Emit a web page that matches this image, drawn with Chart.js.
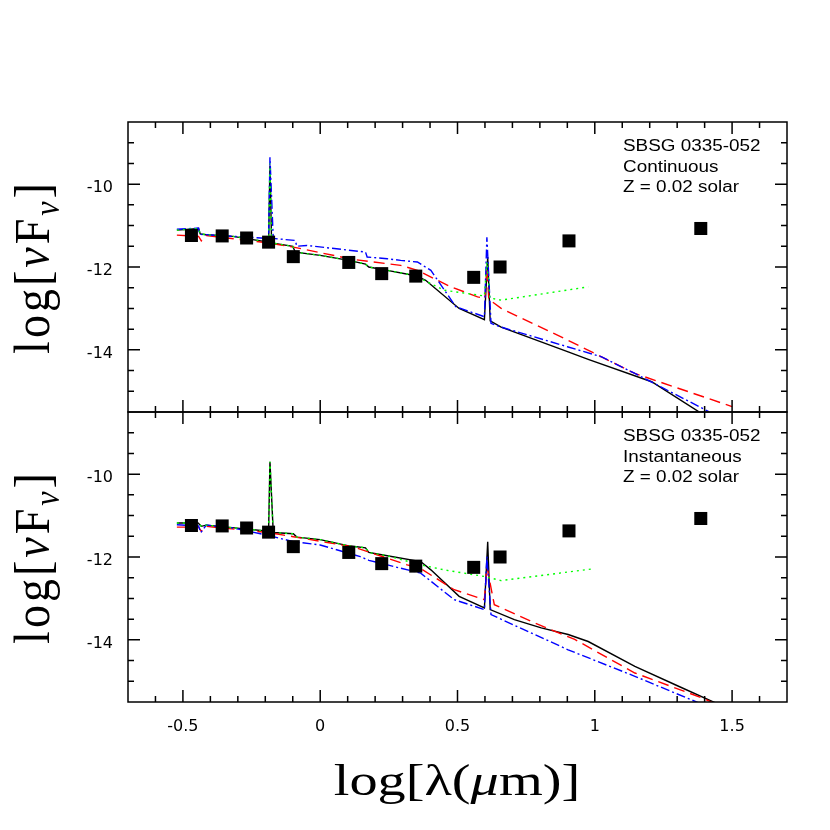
<!DOCTYPE html>
<html>
<head>
<meta charset="utf-8">
<script src="https://cdn.jsdelivr.net/npm/chart.js@4.4.1/dist/chart.umd.min.js"></script>
<style>
  body { margin: 0; background: #fff; }
  #wrap { position: relative; width: 830px; height: 830px; }
  #sed { position: absolute; left: 0; top: 0; }
  .ytitle, .xtitle { position: absolute; font-family: 'Liberation Serif', serif; white-space: nowrap; color: #000; line-height: 1; }
  .ytitle { left: 36px; font-size: 46px; letter-spacing: 3px; transform: translate(-50%, -50%) rotate(-90deg) scaleY(1.1); }
  .xtitle { left: 457px; top: 781px; font-size: 44px; transform: translate(-50%, -50%) scaleX(1.28); }
  .ytitle sub { font-size: 0.7em; vertical-align: -0.3em; }
  .note { position: absolute; left: 623px; font-family: 'Liberation Sans', Arial, sans-serif; font-size: 16px; line-height: 20.5px; color: #000; transform: scaleX(1.18); transform-origin: left top; white-space: nowrap; }
</style>
</head>
<body>
<div id="wrap">
  <canvas id="sed" width="830" height="830"></canvas>
  <div class="ytitle" style="top:267px">log[<i>ν</i>F<sub><i>ν</i></sub>]</div>
  <div class="ytitle" style="top:557px">log[<i>ν</i>F<sub><i>ν</i></sub>]</div>
  <div class="xtitle">log[λ(<i>μ</i>m)]</div>
  <div class="note" style="top:136px">SBSG 0335-052<br>Continuous<br>Z = 0.02 solar</div>
  <div class="note" style="top:426px">SBSG 0335-052<br>Instantaneous<br>Z = 0.02 solar</div>
</div>
<script>
// observed photometry (same in both panels)
var obsX = [-0.469, -0.357, -0.268, -0.188, -0.098, 0.104, 0.224, 0.348, 0.559, 0.655, 0.906, 1.386];
var obsY = [-11.24, -11.25, -11.30, -11.40, -11.75, -11.89, -12.16, -12.22, -12.25, -12.00, -11.37, -11.07];

// top panel: continuous star formation
var contBlackX = [-0.522, -0.443, -0.437, -0.415, -0.318, -0.188, -0.183, -0.177, -0.100, -0.091, 0, 0.104, 0.165, 0.177, 0.244, 0.348, 0.384, 0.506, 0.598, 0.610, 0.619, 0.659, 0.903, 0.976, 1.207, 1.378];
var contBlackY = [-11.11, -11.07, -11.20, -11.22, -11.26, -11.40, -9.55, -11.42, -11.50, -11.64, -11.72, -11.84, -11.93, -12.00, -12.08, -12.21, -12.32, -13.00, -13.27, -11.76, -13.30, -13.45, -14.05, -14.23, -14.77, -15.49];
var contGreenX = [-0.522, -0.443, -0.437, -0.415, -0.318, -0.188, -0.183, -0.177, -0.100, -0.091, 0, 0.104, 0.165, 0.177, 0.244, 0.348, 0.366, 0.451, 0.598, 0.607, 0.618, 0.659, 0.976];
var contGreenY = [-11.11, -11.07, -11.20, -11.22, -11.26, -11.40, -9.50, -11.42, -11.50, -11.64, -11.72, -11.84, -11.93, -12.00, -12.08, -12.21, -12.28, -12.56, -12.70, -11.88, -12.75, -12.80, -12.48];
var contBlueX = [-0.522, -0.443, -0.439, -0.318, -0.188, -0.183, -0.171, -0.091, -0.085, -0.049, 0.165, 0.171, 0.244, 0.293, 0.354, 0.403, 0.494, 0.598, 0.607, 0.622, 0.659, 0.903, 1.025, 1.146, 1.415];
var contBlueY = [-11.09, -11.06, -11.21, -11.26, -11.31, -9.35, -11.31, -11.36, -11.50, -11.48, -11.64, -11.76, -11.80, -11.84, -11.88, -12.08, -12.96, -13.20, -11.28, -13.36, -13.45, -13.93, -14.17, -14.57, -15.49];
var contRedX = [-0.522, -0.443, -0.433, -0.415, -0.188, -0.098, 0.122, 0.293, 0.354, 0.476, 0.573, 0.600, 0.607, 0.614, 0.659, 0.903, 1.146, 1.500];
var contRedY = [-11.23, -11.26, -11.37, -11.24, -11.42, -11.52, -11.82, -11.96, -12.08, -12.48, -12.72, -12.76, -12.00, -12.78, -13.00, -13.77, -14.57, -15.37];

// bottom panel: instantaneous burst
var instBlackX = [-0.522, -0.445, -0.433, -0.415, -0.188, -0.183, -0.171, -0.098, -0.085, 0, 0.104, 0.165, 0.177, 0.244, 0.366, 0.403, 0.506, 0.598, 0.610, 0.619, 0.707, 0.805, 0.903, 0.976, 1.146, 1.305, 1.439];
var instBlackY = [-11.18, -11.18, -11.26, -11.23, -11.38, -9.70, -11.41, -11.44, -11.52, -11.58, -11.73, -11.78, -11.89, -11.97, -12.11, -12.31, -12.95, -13.23, -11.63, -13.27, -13.51, -13.71, -13.87, -14.04, -14.64, -15.12, -15.52];
var instGreenX = [-0.522, -0.445, -0.433, -0.415, -0.188, -0.183, -0.171, -0.098, -0.085, 0, 0.104, 0.165, 0.177, 0.244, 0.366, 0.451, 0.598, 0.659, 0.988];
var instGreenY = [-11.18, -11.18, -11.26, -11.23, -11.38, -9.70, -11.41, -11.44, -11.52, -11.58, -11.73, -11.78, -11.89, -11.97, -12.19, -12.31, -12.47, -12.57, -12.29];
var instBlueX = [-0.522, -0.443, -0.435, -0.415, -0.318, -0.188, -0.098, 0, 0.146, 0.177, 0.366, 0.488, 0.598, 0.607, 0.622, 0.903, 1.146, 1.378];
var instBlueY = [-11.22, -11.25, -11.41, -11.23, -11.30, -11.48, -11.63, -11.71, -11.99, -12.08, -12.39, -13.03, -13.27, -11.99, -13.39, -14.24, -14.88, -15.52];
var instRedX = [-0.522, -0.443, -0.433, -0.415, -0.188, -0.098, 0.122, 0.317, 0.366, 0.488, 0.598, 0.607, 0.634, 0.780, 0.927, 1.146, 1.390, 1.430];
var instRedY = [-11.28, -11.28, -11.38, -11.26, -11.41, -11.51, -11.76, -12.19, -12.28, -12.79, -13.03, -12.23, -13.15, -13.59, -13.99, -14.80, -15.40, -15.52];

// axis ticks
var xMajor = [-0.5, 0, 0.5, 1, 1.5];
var yMajor = [-14, -12, -10];

function pares(xs, ys) {
	return xs.map(function(x, i) { return {x: x, y: ys[i]}; });
}

function curva(xs, ys, cor, traco, eixo) {
	return {
		data: pares(xs, ys),
		yAxisID: eixo,
		showLine: true,
		borderColor: cor,
		borderWidth: 1.4,
		borderDash: traco,
		pointRadius: 0,
		fill: false,
		tension: 0
	};
}

function pontos(eixo) {
	return {
		data: pares(obsX, obsY),
		yAxisID: eixo,
		showLine: false,
		pointStyle: 'rect',
		pointRadius: 9.2,
		backgroundColor: '#000',
		borderColor: '#000',
		borderWidth: 0
	};
}

// frame boxes with inward ticks on all four sides of each panel
var moldura = {
	id: 'moldura',
	afterDatasetsDraw: function(chart) {
		var ctx = chart.ctx, xs = chart.scales.x;
		ctx.save();
		ctx.strokeStyle = '#000';
		ctx.lineWidth = 1.5;
		['yTop', 'yBot'].forEach(function(id) {
			var ys = chart.scales[id];
			ctx.strokeRect(xs.left, ys.top, xs.right - xs.left, ys.bottom - ys.top);
			ctx.beginPath();
			for (var k = -6; k <= 16; k++) {
				var px = xs.getPixelForValue(k / 10);
				var len = (k % 5 === 0) ? 12 : 6;
				ctx.moveTo(px, ys.top); ctx.lineTo(px, ys.top + len);
				ctx.moveTo(px, ys.bottom); ctx.lineTo(px, ys.bottom - len);
			}
			for (var j = -30; j <= -18; j++) {
				var py = ys.getPixelForValue(j / 2);
				var l2 = (j % 4 === 0) ? 12 : 6;
				ctx.moveTo(xs.left, py); ctx.lineTo(xs.left + l2, py);
				ctx.moveTo(xs.right, py); ctx.lineTo(xs.right - l2, py);
			}
			ctx.stroke();
		});
		ctx.restore();
	}
};

function eixoY() {
	return {
		type: 'linear',
		position: 'left',
		stack: 'painel',
		stackWeight: 1,
		min: -15.5,
		max: -8.5,
		grid: { display: false, drawTicks: false },
		border: { display: false },
		afterBuildTicks: function(s) { s.ticks = yMajor.map(function(v) { return {value: v}; }); },
		afterFit: function(s) { s.width = 128; },
		ticks: {
			padding: 15,
			labelOffset: 4,
			color: '#000',
			font: { family: 'DejaVu Sans', size: 16 },
			callback: function(v) { return String(v); }
		}
	};
}

var datasets = [
	pontos('yTop'),
	pontos('yBot'),
	curva(contGreenX, contGreenY, '#00ff00', [2, 4], 'yTop'),
	curva(contBlueX, contBlueY, '#0000ff', [9, 3, 2, 3], 'yTop'),
	curva(contRedX, contRedY, '#ff0000', [11, 6], 'yTop'),
	curva(contBlackX, contBlackY, '#000000', [], 'yTop'),
	curva(instGreenX, instGreenY, '#00ff00', [2, 4], 'yBot'),
	curva(instBlueX, instBlueY, '#0000ff', [9, 3, 2, 3], 'yBot'),
	curva(instRedX, instRedY, '#ff0000', [11, 6], 'yBot'),
	curva(instBlackX, instBlackY, '#000000', [], 'yBot')
];

// in a stack the first declared axis ends up at the bottom
new Chart(document.getElementById('sed'), {
	type: 'scatter',
	data: { datasets: datasets },
	options: {
		responsive: false,
		animation: false,
		layout: { padding: { top: 122, right: 43, left: 0, bottom: 0 } },
		plugins: { legend: { display: false }, tooltip: { enabled: false } },
		scales: {
			x: {
				type: 'linear',
				position: 'bottom',
				min: -0.7,
				max: 1.7,
				grid: { display: false, drawTicks: false },
				border: { display: false },
				afterBuildTicks: function(s) { s.ticks = xMajor.map(function(v) { return {value: v}; }); },
				afterFit: function(s) { s.height = 128; },
				ticks: {
					padding: 15,
					color: '#000',
					font: { family: 'DejaVu Sans', size: 16 },
					callback: function(v) { return String(v); }
				}
			},
			yBot: eixoY(),
			yTop: eixoY()
		}
	},
	plugins: [moldura]
});
</script>
</body>
</html>
